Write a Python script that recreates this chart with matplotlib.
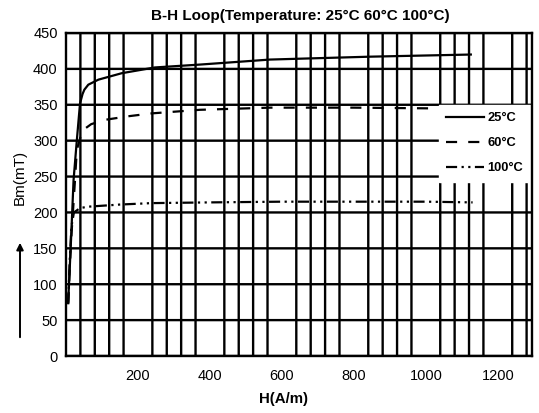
import numpy as np
import matplotlib
matplotlib.use("Agg")
import matplotlib.pyplot as plt

plt.rcParams['font.family'] = ['Liberation Sans', 'DejaVu Sans']

# curve data (H in A/m, B in mT)
h_25 = [6, 14, 21, 30, 39, 46, 51, 62, 90, 155, 247, 372, 567, 844, 1125]
b_25 = [74, 162, 245, 300, 352, 365, 371, 378, 385, 394, 402, 406, 413, 417, 420]

h_60 = [6, 14, 25, 30, 40, 48, 70, 108, 173, 238, 372, 567, 800, 1015]
b_60 = [74, 160, 245, 287, 305, 315, 323, 329, 334, 338, 343, 346, 346, 345]

h_100 = [6, 10, 15, 22, 39, 60, 90, 150, 238, 400, 600, 800, 1000, 1130]
b_100 = [72, 130, 180, 200, 206, 208, 209, 211, 213, 214, 215, 215, 215, 214]

x_ticks = [200, 400, 600, 800, 1000, 1200]
y_ticks = [0, 50, 100, 150, 200, 250, 300, 350, 400, 450]
labels = ['25°C', '60°C', '100°C']

fig = plt.figure(figsize=(5.39, 4.13), dpi=100)
ax = fig.add_axes([66 / 539, 1 - 356 / 413, 466 / 539, 323 / 413])

ax.plot(h_25, b_25, color='black', lw=1.6, ls='-', label=labels[0], zorder=3)
ax.plot(h_60, b_60, color='black', lw=1.6, ls=(0, (5, 5)), label=labels[1], zorder=3)
ax.plot(h_100, b_100, color='black', lw=1.6, ls=(0, (5, 2, 1, 2, 1, 2)), label=labels[2], zorder=3)

ax.set_xlim(0, 1295)
ax.set_ylim(0, 450)
ax.set_xticks(x_ticks)
ax.set_yticks(y_ticks)
ax.set_xticks(np.arange(40, 1295, 40), minor=True)
ax.tick_params(axis='both', which='both', length=0, labelsize=10.5)
ax.tick_params(axis='x', pad=9)
ax.tick_params(axis='y', pad=6)

# heavy black grid, unsnapped so the lines keep soft edges like the scan
ax.grid(which='minor', axis='x', color='black', lw=1.7, snap=False)
ax.grid(which='major', axis='y', color='black', lw=1.7, snap=False)
ax.set_axisbelow(True)
for sp in ax.spines.values():
    sp.set_linewidth(1.7)
    sp.set_zorder(5)

leg = ax.legend(loc='upper right', bbox_to_anchor=(0.997, 0.776), borderaxespad=0,
                frameon=True, fancybox=False, framealpha=1, edgecolor='white',
                prop={'weight': 'bold', 'size': 9.3}, handlelength=2.9,
                labelspacing=1.0, handletextpad=0.3, borderpad=0.55)
leg.set_zorder(4)

fig.text(300 / 539, 1 - 16 / 413, 'B-H Loop(Temperature: 25°C 60°C 100°C)',
         ha='center', va='center', fontsize=11, fontweight='bold')
fig.text(284 / 539, 1 - 399 / 413, 'H(A/m)', ha='center', va='center',
         fontsize=10.8, fontweight='bold')
fig.text(20 / 539, 1 - 177 / 413, 'Bm(mT)', ha='center', va='center',
         rotation=90, fontsize=11)
ax.annotate('', xy=(20 / 539, 1 - 240 / 413), xytext=(20 / 539, 1 - 340 / 413),
            xycoords='figure fraction', textcoords='figure fraction',
            arrowprops=dict(arrowstyle='-|>', color='black', lw=1.4,
                            mutation_scale=10))

fig.savefig('out.png', dpi=100)
